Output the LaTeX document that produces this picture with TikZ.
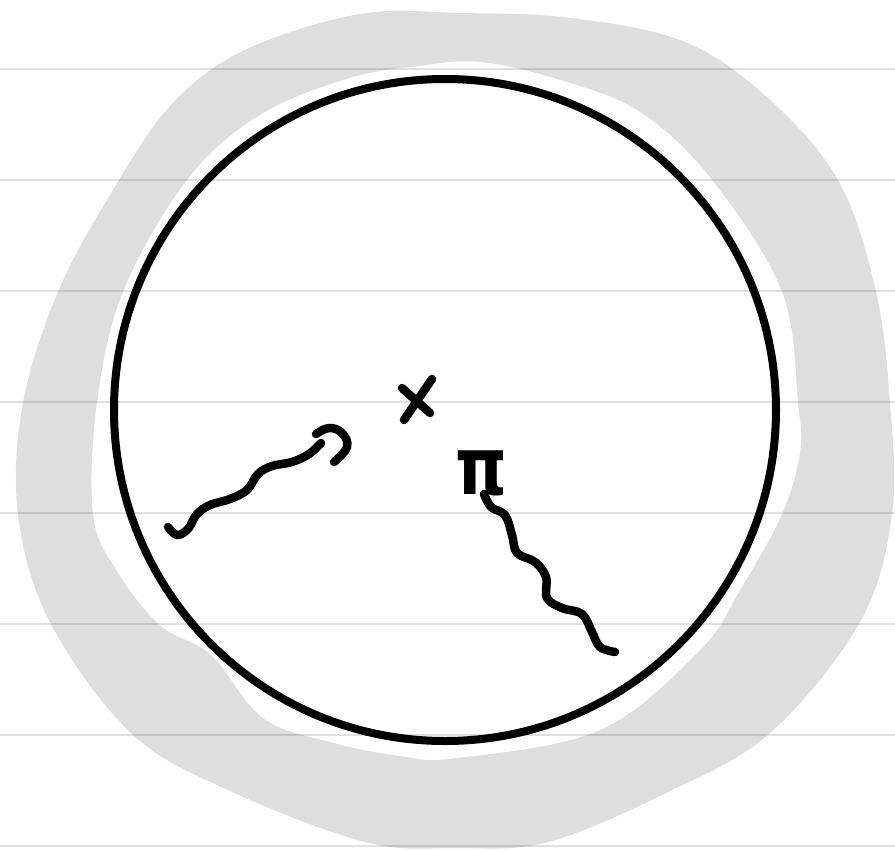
\documentclass[tikz,border=0pt]{standalone}
\usepackage{fontspec}
\newfontfamily\pifont{DejaVu Sans}
\tikzset{
  ink/.style={line width=8.5pt, line cap=round, line join=round, black},
  rule/.style={line width=2.6pt, black, opacity=0.12},
}
\begin{document}
\begin{tikzpicture}[x=1pt,y=-1pt]
\useasboundingbox (0,0) rectangle (895,852);
\fill[white] (0,0) rectangle (895,852);
% grey halo
\fill[black!13] plot[smooth cycle, tension=0.6] coordinates {
 (460,13) (571,18) (685,42) (770,100) (839,182) (876,292) (890,403) (892,514)
 (860,622) (770,733) (668,792) (548,842) (455,848) (365,842) (228,790) (131,733)
 (50,622) (18,514) (23,403) (58,292) (110,195) (171,105) (245,50) (360,14)};
\fill[white] plot[smooth cycle, tension=0.6] coordinates {
 (480,62) (560,80) (640,112) (712,180) (782,292) (798,403) (800,452) (782,514)
 (740,590) (700,650) (600,730) (457,758) (400,756) (330,742) (263,718) (211,655)
 (160,625) (117,571) (93,514) (97,403) (123,292) (187,180) (260,115) (350,78) (420,66)};
% ruled lines
\foreach \yy in {69,180,291,402,513,624,735,846}
  \draw[rule] (0,\yy) -- (895,\yy);
% main circle
\coordinate (c) at (445,410);
\draw[line width=8pt] (c) circle (331);
% cross (vertex)
\coordinate (x1) at (402,388);
\coordinate (x2) at (430,413);
\coordinate (x3) at (432,379);
\coordinate (x4) at (404,420);
\draw[ink] (x1) -- (x2);
\draw[ink] (x3) -- (x4);
% incoming squiggle with curled head
\draw[ink] plot[smooth, tension=0.6] coordinates {
 (168,527) (177,535) (188,529) (197,514) (210,505) (230,499) (247,490) (258,474)
 (272,466) (292,462) (309,454) (321,443)};
\draw[ink] plot[smooth, tension=0.7] coordinates {
 (316,434) (329,428) (342,433) (347,447) (334,462)};
% pi label and outgoing squiggle
\node[inner sep=0pt, anchor=north west, xscale=0.82, font=\pifont\bfseries\fontsize{80}{80}\selectfont] (pi) at (455,451) {π};
\draw[ink] plot[smooth, tension=0.6] coordinates {
 (484,494) (491,507) (505,515) (512,535) (517,553) (535,562) (546,577) (547,598)
 (562,608) (582,614) (592,632) (600,647) (615,652)};
\end{tikzpicture}
\end{document}
